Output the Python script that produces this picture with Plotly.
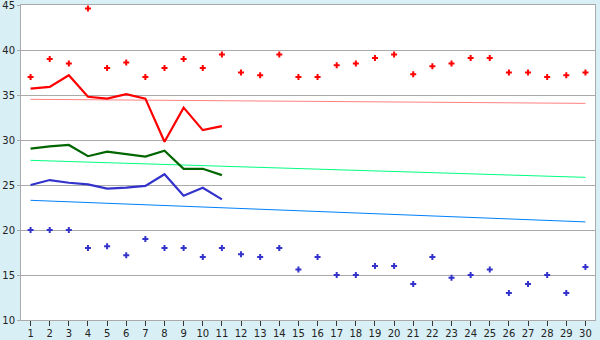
import plotly.graph_objects as go

days = list(range(1, 31))
red_pts = [37, 39, 38.5, 44.6, 38, 38.6, 37, 38, 39, 38, 39.5, 37.5, 37.2, 39.5, 37,
           37, 38.3, 38.5, 39.1, 39.5, 37.3, 38.2, 38.5, 39.1, 39.1, 37.5, 37.5, 37, 37.2, 37.5]
blue_pts = [20, 20, 20, 18, 18.2, 17.2, 19, 18, 18, 17, 18, 17.3, 17, 18, 15.6,
            17, 15, 15, 16, 16, 14, 17, 14.7, 15, 15.6, 13, 14, 15, 13, 15.9]
line_days = list(range(1, 12))
red_line = [35.7, 35.9, 37.2, 34.8, 34.6, 35.1, 34.6, 29.8, 33.6, 31.1, 31.55]
green_line = [29.05, 29.3, 29.45, 28.2, 28.7, 28.4, 28.15, 28.8, 26.8, 26.8, 26.1]
blue_line = [25.0, 25.55, 25.25, 25.07, 24.6, 24.7, 24.9, 26.2, 23.8, 24.7, 23.4]
trend_x = [1, 30]
red_trend = [34.52, 34.07]
green_trend = [27.74, 25.85]
blue_trend = [23.3, 20.9]

fig = go.Figure()
fig.add_trace(go.Scatter(x=trend_x, y=red_trend, mode="lines", line=dict(color="#FF8080", width=1)))
fig.add_trace(go.Scatter(x=trend_x, y=green_trend, mode="lines", line=dict(color="#00FF80", width=1)))
fig.add_trace(go.Scatter(x=trend_x, y=blue_trend, mode="lines", line=dict(color="#0080FF", width=1)))
fig.add_trace(go.Scatter(x=line_days, y=red_line, mode="lines", line=dict(color="#FF0000", width=2.2)))
fig.add_trace(go.Scatter(x=line_days, y=green_line, mode="lines", line=dict(color="#006600", width=2.2)))
fig.add_trace(go.Scatter(x=line_days, y=blue_line, mode="lines", line=dict(color="#3333CC", width=2.2)))
fig.add_trace(go.Scatter(x=days, y=red_pts, mode="markers",
                         marker=dict(symbol="cross", size=5, color="#FF0000", line=dict(width=0))))
fig.add_trace(go.Scatter(x=days, y=blue_pts, mode="markers",
                         marker=dict(symbol="cross", size=5, color="#3333CC", line=dict(width=0))))

fig.update_layout(
    width=600, height=340,
    margin=dict(l=21, r=5, t=5, b=20, autoexpand=False),
    paper_bgcolor="#D9EFF6", plot_bgcolor="#FFFFFF",
    showlegend=False,
    font=dict(family="DejaVu Sans", size=10, color="#222222"),
)
fig.update_xaxes(range=[0.5, 30.5], tickvals=days, ticks="outside", ticklen=5,
                 tickcolor="#333333", showgrid=False, showline=True, linecolor="#AAAAAA",
                 linewidth=1, mirror=True, zeroline=False, automargin=False,
                 ticklabeloverflow="allow", ticklabelstandoff=-1)
fig.update_yaxes(range=[10, 45], dtick=5, ticks="outside", ticklen=3, tickcolor="#AAAAAA",
                 showgrid=True, gridcolor="#AAAAAA", gridwidth=1, showline=True,
                 linecolor="#AAAAAA", linewidth=1, mirror=True, zeroline=False,
                 automargin=False, ticklabeloverflow="allow")

fig.write_html("out.html")
